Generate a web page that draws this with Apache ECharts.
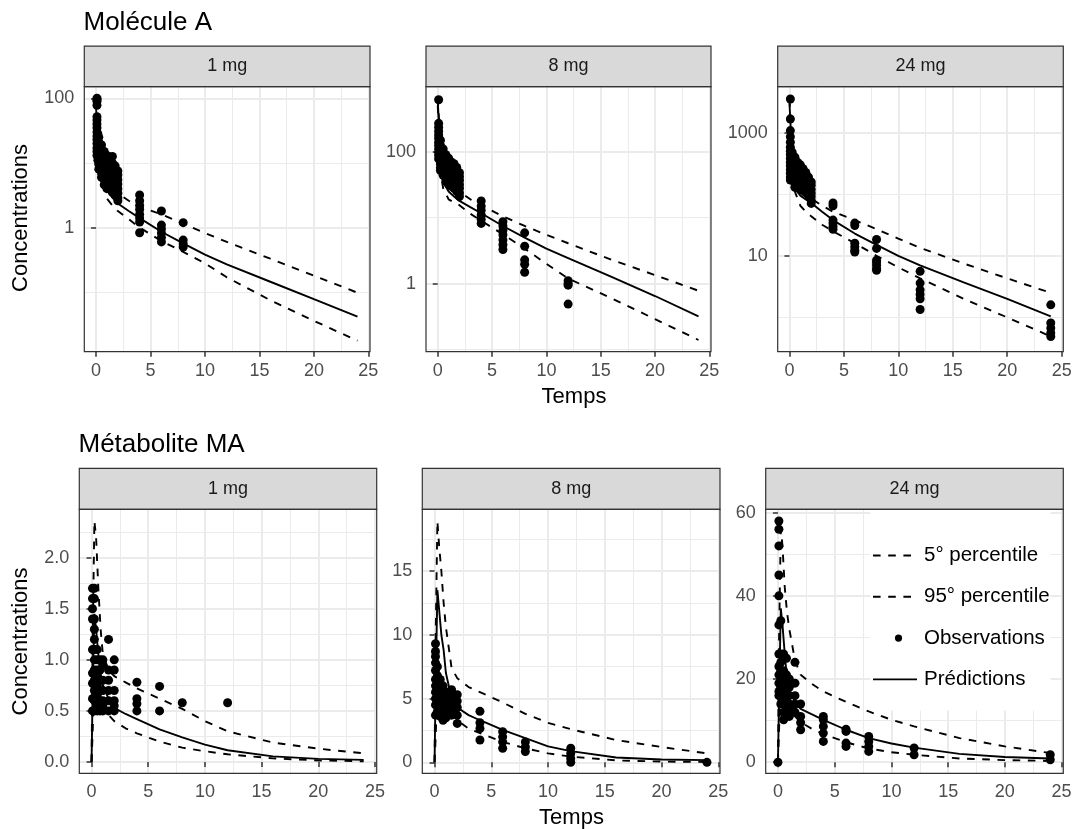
<!DOCTYPE html>
<html><head><meta charset="utf-8">
<script src="https://cdn.jsdelivr.net/npm/echarts@6/dist/echarts.min.js"></script>
<style>html,body{margin:0;padding:0;background:#fff}#c{width:1076px;height:829px}</style>
</head><body><div id="c"></div>
<script>
// ---------- DATA ----------
const doses = ['1 mg', '8 mg', '24 mg'];
const legendNames = ['5° percentile', '95° percentile', 'Observations', 'Prédictions'];

// Molécule A (log scale) prediction grid
const timesA = [0, 0.25, 0.5, 1, 1.5, 2, 3, 4, 6, 8, 10, 12, 16, 20, 24];
const predA1 = [70, 18, 8, 3.8, 2.9, 2.35, 1.8, 1.4, 0.86, 0.57, 0.38, 0.27, 0.145, 0.078, 0.042];
const p95A1  = [100, 30, 14, 6, 4.2, 3.4, 2.6, 2.1, 1.6, 1.15, 0.82, 0.6, 0.33, 0.18, 0.098];
const p5A1   = [40, 12, 5.5, 2.8, 2.2, 1.8, 1.35, 1.0, 0.62, 0.42, 0.28, 0.17, 0.075, 0.036, 0.0178];

const predA2 = [620, 80, 35, 25, 21, 18, 14.5, 11.7, 7.5, 5.0, 3.4, 2.45, 1.27, 0.65, 0.32];
const p95A2  = [650, 130, 60, 36, 29, 25, 19, 15.5, 10.5, 7.5, 5.5, 4.1, 2.3, 1.35, 0.78];
const p5A2   = [500, 50, 28, 19, 17, 15.5, 11.5, 9, 5.6, 3.4, 2.0, 1.2, 0.6, 0.29, 0.14];

const predA3 = [3000, 400, 125, 95, 82, 72, 52, 38, 23, 15, 10, 7, 3.7, 2.0, 1.04];
const p95A3  = [3500, 600, 250, 140, 105, 85, 65, 52, 38, 27, 19, 13.5, 7.5, 4.3, 2.5];
const p5A3   = [2000, 250, 110, 65, 52, 44, 32, 25, 16, 10, 6.5, 4.3, 2.0, 1.0, 0.49];

// Métabolite MA (linear scale) prediction grid
const timesM = [0, 0.1, 0.25, 0.4, 0.6, 0.8, 1, 1.5, 2, 3, 4, 6, 8, 10, 12, 16, 20, 24];
const predM1 = [0, 0.7, 1.45, 1.3, 1.05, 0.85, 0.75, 0.62, 0.53, 0.47, 0.42, 0.32, 0.24, 0.17, 0.115, 0.055, 0.03, 0.02];
const p95M1  = [0, 1.2, 2.36, 2.2, 1.7, 1.3, 1.05, 0.9, 0.84, 0.78, 0.72, 0.62, 0.52, 0.4, 0.3, 0.19, 0.13, 0.085];
const p5M1   = [0, 0.3, 0.8, 0.75, 0.65, 0.58, 0.52, 0.46, 0.40, 0.33, 0.28, 0.2, 0.14, 0.105, 0.075, 0.035, 0.015, 0.007];

const predM2 = [0, 6, 13.5, 12, 10, 8.8, 7, 5.0, 4.3, 3.7, 3.3, 2.55, 1.9, 1.25, 0.88, 0.38, 0.22, 0.17];
const p95M2  = [0, 10, 18.9, 17, 15, 12.5, 10.6, 7.4, 6.6, 5.9, 5.5, 4.7, 3.8, 3.1, 2.6, 1.75, 1.2, 0.7];
const p5M2   = [0, 2, 6, 6, 5.5, 5, 4.6, 3.8, 3.3, 2.65, 2.3, 1.6, 1.1, 0.7, 0.45, 0.15, 0.06, 0.03];

const predM3 = [0, 15, 37, 33, 26, 20, 17.5, 14.5, 12.8, 11.5, 10.2, 7.8, 5.8, 4.5, 3.5, 2.0, 1.25, 0.9];
const p95M3  = [0, 30, 56, 52, 42, 36, 32, 24.5, 21, 18.8, 17, 14.5, 12.2, 10.2, 8.6, 5.8, 3.8, 2.2];
const p5M3   = [0, 8, 20, 19, 17, 15, 13, 11, 9.6, 8, 6.8, 4.8, 3.3, 2.4, 1.8, 0.9, 0.5, 0.3];

// Observations: [time, [concentrations...]]
const obsA1 = [
  [0.083, [100, 96, 90, 78, 52, 46, 40, 35, 30, 26, 23, 20, 17, 15, 13]],
  [0.167, [28, 24, 21, 18, 15, 13, 11]],
  [0.25, [25, 21, 18, 15, 13, 11, 9.5, 8]],
  [0.5, [19, 16, 14, 12, 10, 8.5, 7, 6]],
  [0.75, [15, 13, 11, 9.5, 8, 6.8, 5.5, 4.6]],
  [1, [13, 11, 9.5, 8, 6.8, 5.8, 4.8, 4]],
  [1.25, [11, 9.5, 8, 6.8, 5.8, 4.8, 4]],
  [1.5, [12.6, 10, 8.5, 7.2, 6, 5, 4.2, 3.5]],
  [1.75, [9, 7.8, 6.6, 5.5, 4.6, 3.8, 3.2]],
  [2, [7.5, 6.5, 5.5, 4.7, 4, 3.4, 2.9, 2.6]],
  [4, [3.2, 2.6, 2.2, 1.9, 1.6, 1.4, 1.22, 0.83]],
  [6, [1.8, 1.09, 0.95, 0.82, 0.7, 0.6]],
  [8, [1.19, 0.64, 0.56, 0.5]]
];
const obsA2 = [
  [0.083, [615, 270, 235, 205, 180, 160, 140, 125, 110, 98, 88, 78]],
  [0.25, [150, 125, 110, 95, 85, 75, 66, 58, 52]],
  [0.5, [110, 95, 83, 73, 64, 56, 50, 44]],
  [0.75, [90, 78, 68, 60, 52, 45, 40, 36]],
  [1, [80, 70, 61, 53, 46, 40, 35, 32]],
  [1.25, [70, 61, 53, 46, 40, 35, 30]],
  [1.5, [66, 57, 50, 43, 37, 32, 28]],
  [1.75, [58, 50, 44, 38, 33, 28, 25]],
  [2, [48, 42, 37, 32, 28, 24, 21]],
  [4, [18, 15, 13, 11, 9.5, 8.2]],
  [6, [8.7, 7.5, 6.4, 5.5, 4.6, 3.9, 3.3]],
  [8, [5.9, 3.7, 2.3, 1.97, 1.49]],
  [12, [1.11, 1.01, 0.95, 0.49]]
];
const obsA3 = [
  [0.083, [3520, 1670, 1080, 860, 700, 580, 500, 440, 380, 330, 290, 250, 220, 190, 170]],
  [0.25, [480, 420, 370, 330, 290, 260, 230, 200]],
  [0.5, [400, 340, 300, 260, 230, 200, 175, 150, 130]],
  [0.75, [330, 290, 250, 220, 195, 170, 150, 130]],
  [1, [300, 260, 230, 200, 175, 155, 135, 118]],
  [1.25, [260, 225, 195, 170, 150, 130, 115]],
  [1.5, [225, 200, 175, 155, 135, 118, 105]],
  [1.75, [190, 165, 145, 125, 110, 95]],
  [2, [158, 140, 120, 105, 92, 80, 71]],
  [4, [72, 65, 38, 34, 30, 27]],
  [6, [34, 31, 16, 14, 12.3, 11.5]],
  [8, [18.4, 13.2, 8.5, 7.8, 7, 6.2, 5.8]],
  [12, [5.6, 3.6, 2.8, 2.35, 2.0, 1.34]],
  [24, [1.6, 0.81, 0.67, 0.56, 0.49]]
];
const obsM1 = [
  [0.083, [1.7, 1.6, 1.5, 1.4, 1.1, 0.87, 0.77, 0.62, 0.5]],
  [0.25, [1.7, 1.6, 1.4, 1.3, 1.2, 1.1, 1.0, 0.9, 0.8, 0.7, 0.6, 0.5]],
  [0.5, [1.1, 1.0, 0.9, 0.85, 0.75, 0.65, 0.55, 0.5]],
  [0.75, [1.0, 0.9, 0.8, 0.7, 0.6, 0.5]],
  [1, [1.0, 0.95, 0.8, 0.7, 0.6, 0.55, 0.5]],
  [1.5, [1.2, 0.9, 0.8, 0.7, 0.6, 0.5]],
  [2, [1.0, 0.9, 0.7, 0.6, 0.55, 0.5]],
  [4, [0.78, 0.62, 0.57, 0.5]],
  [6, [0.74, 0.5]],
  [8, [0.58]],
  [12, [0.58]]
];
const obsM2 = [
  [0.083, [9.3, 8.7, 8.3, 7.8, 7.2, 6.5, 6.0, 5.5, 5.0, 4.5, 3.7]],
  [0.25, [7.5, 6.8, 6.2, 5.6, 5.0, 4.5, 4.0]],
  [0.5, [6.5, 5.8, 5.2, 4.6, 4.0, 3.6]],
  [0.75, [6.0, 5.4, 4.8, 4.2, 3.6, 3.3]],
  [1, [5.5, 5.0, 4.5, 4.0, 3.5]],
  [1.5, [5.7, 5.2, 4.7, 4.2, 3.7]],
  [2, [5.3, 4.8, 4.3, 3.7, 3.05]],
  [4, [4.0, 3.1, 2.65, 1.75]],
  [6, [2.4, 2.0, 1.6, 1.1]],
  [8, [1.6, 1.2, 0.85]],
  [12, [1.1, 0.7, 0.3, 0]],
  [24, [0]]
];
const obsM3 = [
  [0, [0]],
  [0.083, [58, 56, 52, 45, 40, 33, 26, 23, 21, 19, 17, 16]],
  [0.25, [34, 26, 24, 22, 20, 18, 16, 14]],
  [0.5, [26, 22, 20, 18, 16, 14, 12, 10.2]],
  [0.75, [25, 21, 19, 17, 15, 13, 11]],
  [1, [20, 18, 16, 14, 12.5, 11]],
  [1.5, [24, 19, 16, 14, 12]],
  [2, [14, 11, 9.5, 7.8]],
  [4, [11, 10.2, 8.6, 7, 5]],
  [6, [7.9, 7.4, 4.6, 3.8]],
  [8, [6.2, 5, 3.8, 2.6]],
  [12, [3.4, 1.8]],
  [24, [1.8, 0.6]]
];

// Axis breaks
const xMajor = [0, 5, 10, 15, 20, 25];
const xMinor = [2.5, 7.5, 12.5, 17.5, 22.5];
const yMajorA1 = [1, 100],  yMinorA1 = [0.1, 10];
const yMajorA2 = [1, 100],  yMinorA2 = [0.1, 10];
const yMajorA3 = [10, 1000], yMinorA3 = [1, 100];
const yMajorM1 = [0, 0.5, 1, 1.5, 2], yMinorM1 = [0.25, 0.75, 1.25, 1.75, 2.25];
const yMajorM2 = [0, 5, 10, 15], yMinorM2 = [2.5, 7.5, 12.5, 17.5];
const yMajorM3 = [0, 20, 40, 60], yMinorM3 = [10, 30, 50];

// ---------- LAYOUT ----------
const FONT = "'Liberation Sans', Arial, Helvetica, sans-serif";
const X_MIN = -1.08, X_MAX = 25.15;
const panels = [
  {l: 84.3, t: 86.7, w: 285.7, h: 265, log: true, yMin: 0.012, yMax: 151, yMaj: yMajorA1, yMin2: yMinorA1, times: timesA, pred: predA1, p5: p5A1, p95: p95A1, obs: obsA1, fmt: v => String(v)},
  {l: 426, t: 86.7, w: 285, h: 265, log: true, yMin: 0.093, yMax: 970, yMaj: yMajorA2, yMin2: yMinorA2, times: timesA, pred: predA2, p5: p5A2, p95: p95A2, obs: obsA2, fmt: v => String(v)},
  {l: 777.7, t: 86.7, w: 285.6, h: 265, log: true, yMin: 0.277, yMax: 5580, yMaj: yMajorA3, yMin2: yMinorA3, times: timesA, pred: predA3, p5: p5A3, p95: p95A3, obs: obsA3, fmt: v => String(v)},
  {l: 79.3, t: 509.3, w: 297.4, h: 264, log: false, yMin: -0.111, yMax: 2.474, yMaj: yMajorM1, yMin2: yMinorM1, times: timesM, pred: predM1, p5: p5M1, p95: p95M1, obs: obsM1, fmt: v => v.toFixed(1)},
  {l: 422.3, t: 509.3, w: 297.7, h: 264, log: false, yMin: -0.86, yMax: 19.84, yMaj: yMajorM2, yMin2: yMinorM2, times: timesM, pred: predM2, p5: p5M2, p95: p95M2, obs: obsM2, fmt: v => String(v)},
  {l: 765.7, t: 509.3, w: 297.6, h: 264, log: false, yMin: -2.67, yMax: 60.8, yMaj: yMajorM3, yMin2: yMinorM3, times: timesM, pred: predM3, p5: p5M3, p95: p95M3, obs: obsM3, fmt: v => String(v)}
];

const grids = [], xAxes = [], yAxes = [], series = [], graphics = [];
const tickStyle = {show: true, length: 5, lineStyle: {color: '#333333', width: 1.5}};
const labelStyle = {fontSize: 18, color: '#4D4D4D', fontFamily: FONT, lineHeight: 18};
const dashed = [7.6, 7.6];

panels.forEach((p, i) => {
  grids.push({left: p.l, top: p.t, width: p.w, height: p.h, show: false, containLabel: false, outerBoundsMode: 'none'});
  xAxes.push({gridIndex: i, type: 'value', min: X_MIN, max: X_MAX, position: 'bottom',
    axisLine: {show: false},
    axisTick: Object.assign({customValues: xMajor}, tickStyle),
    axisLabel: Object.assign({customValues: xMajor, margin: 10, formatter: v => String(v)}, labelStyle),
    splitLine: {show: true, lineStyle: {color: '#EBEBEB', width: 2}}});
  xAxes.push({gridIndex: i, type: 'value', min: X_MIN, max: X_MAX, position: 'top',
    axisLine: {show: false}, axisTick: {show: false, customValues: xMinor}, axisLabel: {show: false},
    splitLine: {show: true, lineStyle: {color: '#EBEBEB', width: 1}}});
  const yType = p.log ? 'log' : 'value';
  const yBase = {gridIndex: i, type: yType, min: p.yMin, max: p.yMax};
  if (p.log) yBase.logBase = 10;
  yAxes.push(Object.assign({}, yBase, {position: 'left',
    axisLine: {show: false},
    axisTick: Object.assign({customValues: p.yMaj}, tickStyle),
    axisLabel: Object.assign({customValues: p.yMaj, margin: 10, formatter: p.fmt}, labelStyle),
    splitLine: {show: true, lineStyle: {color: '#EBEBEB', width: 2}}}));
  yAxes.push(Object.assign({}, yBase, {position: 'right',
    axisLine: {show: false}, axisTick: {show: false, customValues: p.yMin2}, axisLabel: {show: false},
    splitLine: {show: true, lineStyle: {color: '#EBEBEB', width: 1}}}));

  const ax = {xAxisIndex: 2 * i, yAxisIndex: 2 * i};
  const line = (name, vals, type) => Object.assign({
    name: name, type: 'line', symbol: 'none', showSymbol: false, silent: true, z: 2,
    data: p.times.map((t, k) => [t, vals[k]]),
    lineStyle: {color: '#000', width: 1.9, type: type}, itemStyle: {color: '#000'}
  }, ax);
  series.push(line('5° percentile', p.p5, dashed));
  series.push(line('95° percentile', p.p95, dashed));
  series.push(line('Prédictions', p.pred, 'solid'));
  const pts = [];
  p.obs.forEach(([t, vs]) => vs.forEach(v => pts.push([t, v])));
  series.push(Object.assign({name: 'Observations', type: 'scatter', symbol: 'circle', symbolSize: 9,
    silent: true, z: 3, itemStyle: {color: '#000', opacity: 1}, data: pts}, ax));

  const stripH = i < 3 ? 40.5 : 41;
  graphics.push({type: 'rect', z: 100, shape: {x: p.l, y: p.t - stripH, width: p.w, height: stripH},
    style: {fill: '#D9D9D9', stroke: '#333333', lineWidth: 1.2}});
  graphics.push({type: 'text', z: 101, x: p.l + p.w / 2, y: p.t - stripH / 2,
    style: {text: doses[i % 3], fontSize: 18, fontFamily: FONT, fill: '#1A1A1A', align: 'center', verticalAlign: 'middle'}});
  graphics.push({type: 'rect', z: 100, shape: {x: p.l, y: p.t, width: p.w, height: p.h},
    style: {fill: 'none', stroke: '#333333', lineWidth: 1.2}});
});

const txt = (text, x, y, size, opts) => Object.assign({type: 'text', z: 101, x: x, y: y,
  style: {text: text, fontSize: size, fontFamily: FONT, fill: '#000', align: 'left', verticalAlign: 'middle'}}, opts || {});
graphics.push(txt('Molécule A', 83.5, 22.5, 26));
graphics.push(txt('Métabolite MA', 78.5, 445, 26));
const tc = txt('Temps', 574, 396.5, 22); tc.style.align = 'center'; graphics.push(tc);
const tc2 = txt('Temps', 571.5, 817.5, 22); tc2.style.align = 'center'; graphics.push(tc2);
const c1 = txt('Concentrations', 21, 218, 22, {rotation: Math.PI / 2}); c1.style.align = 'center'; graphics.push(c1);
const c2 = txt('Concentrations', 21, 641.5, 22, {rotation: Math.PI / 2}); c2.style.align = 'center'; graphics.push(c2);

// Legend key glyphs (46 x 20 boxes)
const dashIcon = 'path://M0,0M46,20M0,9.05L7.6,9.05L7.6,10.95L0,10.95ZM15.2,9.05L22.8,9.05L22.8,10.95L15.2,10.95ZM30.4,9.05L38,9.05L38,10.95L30.4,10.95Z';
const solidIcon = 'path://M0,0M46,20M0,9.05L44,9.05L44,10.95L0,10.95Z';
const dotIcon = 'path://M0,0M46,20M25.5,10m-3.6,0a3.6,3.6,0,1,0,7.2,0a3.6,3.6,0,1,0,-7.2,0Z';

const chart = echarts.init(document.getElementById('c'), null, {renderer: 'canvas'});
chart.setOption({
  animation: false,
  backgroundColor: '#ffffff',
  grid: grids,
  xAxis: xAxes,
  yAxis: yAxes,
  series: series,
  graphic: graphics,
  legend: {
    show: true, orient: 'vertical', left: 870, top: 510,
    backgroundColor: '#ffffff', borderWidth: 0,
    padding: [35, 1, 20.7, 3],
    itemWidth: 46, itemHeight: 20, itemGap: 20.3,
    selectedMode: false, symbolKeepAspect: true,
    textStyle: {fontSize: 20.5, color: '#000', fontFamily: FONT, lineHeight: 20},
    data: [
      {name: legendNames[0], icon: dashIcon},
      {name: legendNames[1], icon: dashIcon},
      {name: legendNames[2], icon: dotIcon},
      {name: legendNames[3], icon: solidIcon}
    ]
  }
});
</script></body></html>
